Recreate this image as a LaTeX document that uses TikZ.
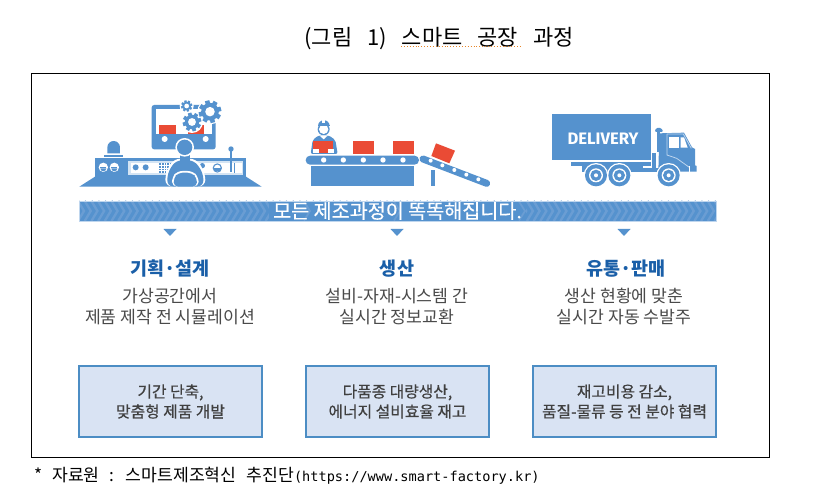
\documentclass[tikz,border=0pt]{standalone}
\usepackage{fontspec}
\usepackage{graphicx}
\setmainfont{Noto Sans CJK KR}
\newfontfamily\krf{Noto Sans CJK KR}
\newfontfamily\krm[FakeBold=0.5]{Noto Sans CJK KR}
\newfontfamily\monof{DejaVu Sans Mono}
\newfontfamily\delf{Fira Sans}
\definecolor{iconblue}{HTML}{5592CE}
\definecolor{lightline}{HTML}{BFD6EE}
\definecolor{chev}{HTML}{6A9DD3}
\definecolor{redbox}{HTML}{EA4B35}
\definecolor{headblue}{HTML}{1A5FA8}
\definecolor{boxfill}{HTML}{D9E3F3}
\definecolor{boxedge}{HTML}{4C8DC4}
\definecolor{greytext}{HTML}{4A4A4A}
\definecolor{wavy}{HTML}{E8862A}
\newcommand{\gearshape}[3]{% x y radius (zoom units)
  \begin{scope}[shift={(#1,#2)}]
  \foreach \a in {0,45,...,315}{
    \fill[iconblue,rotate=\a+15] (-#3*0.2,0) rectangle (#3*0.2,#3);
  }
  \fill[iconblue] (0,0) circle[radius=#3*0.78];
  \fill[white] (0,0) circle[radius=#3*0.42];
  \end{scope}}
\tikzset{
  zoomed/.style={x=0.33333pt,y=-0.33333pt},
  descr/.style={align=center,font=\krf\fontsize{17.2}{21}\selectfont,text=greytext,inner sep=0},
  head/.style={font=\krf\bfseries\fontsize{18.5}{20}\selectfont,text=headblue,inner sep=0},
  resultbox/.style={draw=boxedge,line width=1.2pt,fill=boxfill,minimum width=183pt,minimum height=71pt,inner sep=0,align=center,font=\krm\fontsize{15.8}{20}\selectfont,text=black!75},
  marker/.style={fill=iconblue}
}
\begin{document}
\begin{tikzpicture}[x=1pt,y=-1pt]
\useasboundingbox (0,0) rectangle (831,492);
\fill[white] (0,0) rectangle (831,492);
% title
\node[inner sep=0,anchor=center,font=\krf\fontsize{22}{26}\selectfont] (title) at (439,38.5) {\spaceskip=15pt (그림 1) 스마트 공장 과정};
\coordinate (wa) at (401,46.7);
\coordinate (wb) at (520,46.7);
\draw[wavy,line width=0.9pt,dotted] (wa) -- (wb);
% frame
\draw[black,line width=0.8pt] (31,73) rectangle (769,457);
% band
\fill[iconblue] (79,201) rectangle (716,221);
\begin{scope}
\clip (79,201) rectangle (716,221);
\foreach \i in {0,...,95}{
  \draw[chev,line width=2.4pt] (78+\i*6.7,201) -- (84+\i*6.7,211) -- (78+\i*6.7,221);
}
\end{scope}
\fill[iconblue] (269,201) rectangle (526,221);
\foreach \x in {308,398,523}{\draw[chev,line width=1.8pt] (\x-4,201.5) -- (\x+2,211) -- (\x-4,220.5);}
\draw[lightline,line width=0.6pt] (79,201) rectangle (716,221);
\node[inner sep=0,text=white,font=\krm\fontsize{19.6}{22}\selectfont] (band) at (397.5,211) {모든 제조과정이 똑똑해집니다.};
% markers
\foreach \x in {170,397,624}{\fill[marker] (\x-6.5,229) -- (\x+6.5,229) -- (\x,236) -- cycle;}
% icon 1
\begin{scope}[shift={(60,90)},zoomed]
 \fill[iconblue] (58,290) -- (105,260) -- (558,260) -- (605,290) -- cycle;
 \fill[iconblue] (105,205) rectangle (557,260);
 \fill[white!75!iconblue] (205,212) rectangle (550,254);
 \fill[white] (212,218) rectangle (545,248);
 \foreach \x/\y in {130/232,163/232}{\fill[white] (\x,\y) circle[radius=14];\fill[iconblue] (\x-9,\y-2) rectangle (\x+9,\y+2);\fill[iconblue] (\x-9,\y+3) arc[start angle=180,end angle=0,radius=9] -- cycle;}
 \fill[iconblue] (142,190) -- (142,172) arc[start angle=180,end angle=360,radius=19] -- (180,190) -- cycle;
 \fill[iconblue] (133,195) rectangle (188,202);
 \fill[iconblue] (227,232) circle[radius=9];
 \fill[iconblue] (257,232) circle[radius=9];
 \foreach \xx in {298,306,...,330}{\foreach \yy in {220,228,236,244}{\fill[iconblue] (\xx,\yy) rectangle +(5,5);}}
 \fill[iconblue] (427,227) circle[radius=8];
 \fill[iconblue] (472,234) circle[radius=14]; \fill[white] (472,234) circle[radius=10]; \fill[iconblue] (462,234) rectangle (482,242);
 \fill[iconblue] (510,177) rectangle (517,245);
 \fill[iconblue] (513,177) circle[radius=8];
 \fill[iconblue] (522,218) rectangle (525,248);
 % monitor
 \fill[iconblue,rounded corners=2.5pt] (275,45) rectangle (467,178);
 \fill[white] (288,58) rectangle (455,132);
 \fill[redbox] (297,105) rectangle (347,132);
 \fill[redbox] (383,105) rectangle (433,132);
 \fill[white] (314,147) circle[radius=9];
 \fill[white] (437,147) circle[radius=9];
 \fill[white] (380,48) circle[radius=21];
 \fill[white] (450,65) circle[radius=38];
 \fill[white] (396,96) circle[radius=33];
 \gearshape{380}{48}{17}
 \gearshape{450}{65}{34}
 \gearshape{396}{96}{28}
 % person
 \fill[white,rounded corners=7pt] (316,290) -- (316,250) -- (340,206) -- (410,206) -- (436,250) -- (436,290) -- cycle;
 \fill[iconblue,rounded corners=6pt] (322,290) -- (322,250) -- (347,211) -- (403,211) -- (430,250) -- (430,290) -- cycle;
 \fill[iconblue] (360,195) rectangle (390,215);
 \fill[white] (374,172) circle[radius=28];
 \fill[iconblue] (374,172) circle[radius=23];
 \fill[white,rounded corners=5pt] (336,290) -- (336,262) -- (352,243) -- (398,243) -- (416,262) -- (416,290) -- cycle;
 \fill[iconblue,rounded corners=4.5pt] (341,290) -- (341,264) -- (355,248) -- (395,248) -- (411,264) -- (411,290) -- cycle;
\end{scope}
% icon 2
\begin{scope}[shift={(290,90)},zoomed]
 \fill[iconblue,rounded corners=2pt] (62,192) -- (68,150) -- (86,136) -- (116,136) -- (136,150) -- (143,192) -- cycle;
 \fill[iconblue] (101,118) circle[radius=18];
 \fill[white] (101,118) circle[radius=14];
 \fill[iconblue] (84,108) arc[start angle=180,end angle=360,radius=17.5] -- cycle;
 \fill[iconblue] (83,106) rectangle (119,109);
 \fill[white] (96,86) rectangle (106,100);
 \fill[white] (88,136) -- (101,148) -- (114,136) -- cycle;
 \fill[redbox] (70,153) rectangle (130,190);
 \fill[white] (68,178) rectangle (86,188);
 \fill[white] (114,178) rectangle (132,188);
 \fill[redbox] (190,152) rectangle (252,192);
 \fill[redbox] (310,152) rectangle (372,192);
 \fill[iconblue,rounded corners=4.4pt] (47,197) rectangle (387,224);
 \foreach \x in {101,160,220,279,339}{\fill[white] (\x,210) circle[radius=8];}
 \fill[iconblue] (62,229) rectangle (372,288);
 % ramp
 \draw[iconblue,line width=7pt,line cap=round] (399,207) -- (590,280);
 \foreach \x/\y in {422/212,457/226,493/240,529/254,565/268}{\fill[white] (\x,\y) circle[radius=6];}
 \fill[redbox] (438,160) -- (495,182) -- (478,220) -- (424,198) -- cycle;
 \fill[iconblue] (424,240) rectangle (434,288);
\end{scope}
% icon 3
\begin{scope}[shift={(530,90)},zoomed]
 \fill[iconblue] (67,73) rectangle (362,211);
 \node[inner sep=0,text=white,font=\delf\bfseries\fontsize{18}{20}\selectfont] (deliv) at (219,145) {\resizebox{70.7pt}{!}{DELIVERY}};
 \fill[iconblue] (122,216) rectangle (362,228);
 \fill[iconblue] (155,228) rectangle (340,246);
 \fill[iconblue] (366,188) rectangle (378,235);
 \fill[iconblue] (340,235) rectangle (395,246);
 % exhaust
 \fill[iconblue] (380,122) rectangle (391,185);
 \fill[iconblue,rounded corners=1.3pt] (374,126) -- (378,114) -- (394,114) -- (400,126) -- cycle;
 % cab
 \fill[iconblue] (388,130) -- (462,128) -- (486,172) -- (495,177) -- (495,226) -- (500,228) -- (500,245) -- (480,245) -- (385,245) -- cycle;
 \draw[lightline,line width=0.8pt] (411,132) -- (411,195) -- (440,205) -- (478,232);
 \draw[lightline,line width=0.8pt] (411,132) -- (460,132) -- (484,175);
 \fill[white] (416,142) rectangle (447,173);
 \fill[white] (452,142) -- (462,142) -- (473,173) -- (452,173) -- cycle;
 \fill[white] (478,228) rectangle (481,245);
 % wheels
 \foreach \x in {198,268,416}{
  \fill[white] (\x,256) circle[radius=37];
  \fill[iconblue] (\x,256) circle[radius=33];
  \fill[white] (\x,256) circle[radius=21];
  \fill[iconblue] (\x,256) circle[radius=17];
  \fill[white] (\x,256) circle[radius=6];
 }
\end{scope}
% headings
\node[head] (h1) at (170,269) {기획·설계};
\node[head] (h2) at (397,269) {생산};
\node[head] (h3) at (626,269) {유통·판매};
\node[descr] (d1) at (170,307) {가상공간에서\\제품 제작 전 시뮬레이션};
\node[descr] (d2) at (397,307) {설비-자재-시스템 간\\실시간 정보교환};
\node[descr] (d3) at (624,307) {생산 현황에 맞춘\\실시간 자동 수발주};
% boxes
\node[resultbox] (b1) at (170.5,401.5) {기간 단축,\\맞춤형 제품 개발};
\node[resultbox] (b2) at (397.5,401.5) {다품종 대량생산,\\에너지 설비효율 재고};
\node[resultbox] (b3) at (624.5,401.5) {재고비용 감소,\\품질-물류 등 전 분야 협력};
% source
\node[inner sep=0,anchor=west,font=\krf\fontsize{17.2}{18}\selectfont] (src) at (34,476) {\spaceskip=10pt * 자료원 : 스마트제조혁신 추진단\monof\fontsize{13.6}{18}\selectfont (https://www.smart-factory.kr)};
\end{tikzpicture}
\end{document}
